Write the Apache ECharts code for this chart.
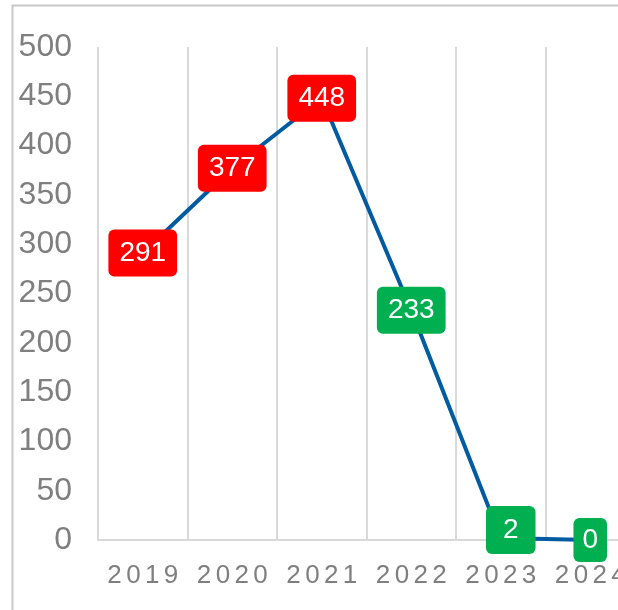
<!DOCTYPE html>
<html>
<head>
<meta charset="utf-8">
<script src="https://cdn.jsdelivr.net/npm/echarts@6/dist/echarts.min.js"></script>
<style>
    html, body { margin: 0; padding: 0; background: #fff; }
    #chart { width: 618px; height: 610px; }
</style>
</head>
<body>
<div id="chart"></div>
<script>
const years = ['2019', '2020', '2021', '2022', '2023', '2024']
const values = [291, 377, 448, 233, 2, 0]
const labelColors = ['#ff0000', '#ff0000', '#ff0000', '#00b050', '#00b050', '#00b050']
const yTicks = { min: 0, max: 500, interval: 50 }

const chart = echarts.init(document.getElementById('chart'))

const seriesData = values.map((v, i) => {
    const item = {
        value: v,
        label: { backgroundColor: labelColors[i] }
    }
    // the small ones sit in differently sized boxes
    if (i === 4) {
        item.label.padding = [11, 17, 9, 17]
        item.label.offset = [10, -8]
    }
    if (i === 5) {
        item.label.padding = [8, 9, 8, 9]
    }
    return item
})

chart.setOption({
    animation: false,
    textStyle: { fontFamily: 'Liberation Sans' },
    graphic: [{
        type: 'rect',
        shape: { x: 12.5, y: 5.5, width: 800, height: 800 },
        style: { fill: 'none', stroke: '#c8c8c8', lineWidth: 2 },
        silent: true
    }],
    grid: {
        left: 98,
        top: 47,
        width: 537,
        height: 493,
        outerBoundsMode: 'none'
    },
    xAxis: {
        type: 'category',
        data: years,
        boundaryGap: true,
        axisTick: { show: false },
        axisLine: { lineStyle: { color: '#d9d9d9', width: 2 } },
        axisLabel: {
            interval: 0,
            margin: 23,
            color: '#7f7f7f',
            fontFamily: 'Liberation Sans',
            fontSize: 26,
            formatter: function (name) {
                // spread the digits like the original
                return name.split('').join('\u2006')
            }
        },
        splitLine: {
            show: true,
            showMinLine: true,
            lineStyle: { color: '#d9d9d9', width: 2 }
        }
    },
    yAxis: {
        type: 'value',
        min: yTicks.min,
        max: yTicks.max,
        interval: yTicks.interval,
        axisLine: { show: false },
        axisTick: { show: false },
        splitLine: { show: false },
        axisLabel: {
            margin: 26,
            color: '#7f7f7f',
            fontFamily: 'Liberation Sans',
            fontSize: 32
        }
    },
    series: [{
        type: 'line',
        data: seriesData,
        symbol: 'circle',
        symbolSize: 1,
        itemStyle: { color: '#005ba1' },
        lineStyle: { color: '#005ba1', width: 4 },
        label: {
            show: true,
            position: 'inside',
            color: '#fff',
            fontFamily: 'Liberation Sans',
            fontSize: 28,
            borderRadius: 6,
            padding: [10, 11, 9, 11]
        }
    }]
})
</script>
</body>
</html>
